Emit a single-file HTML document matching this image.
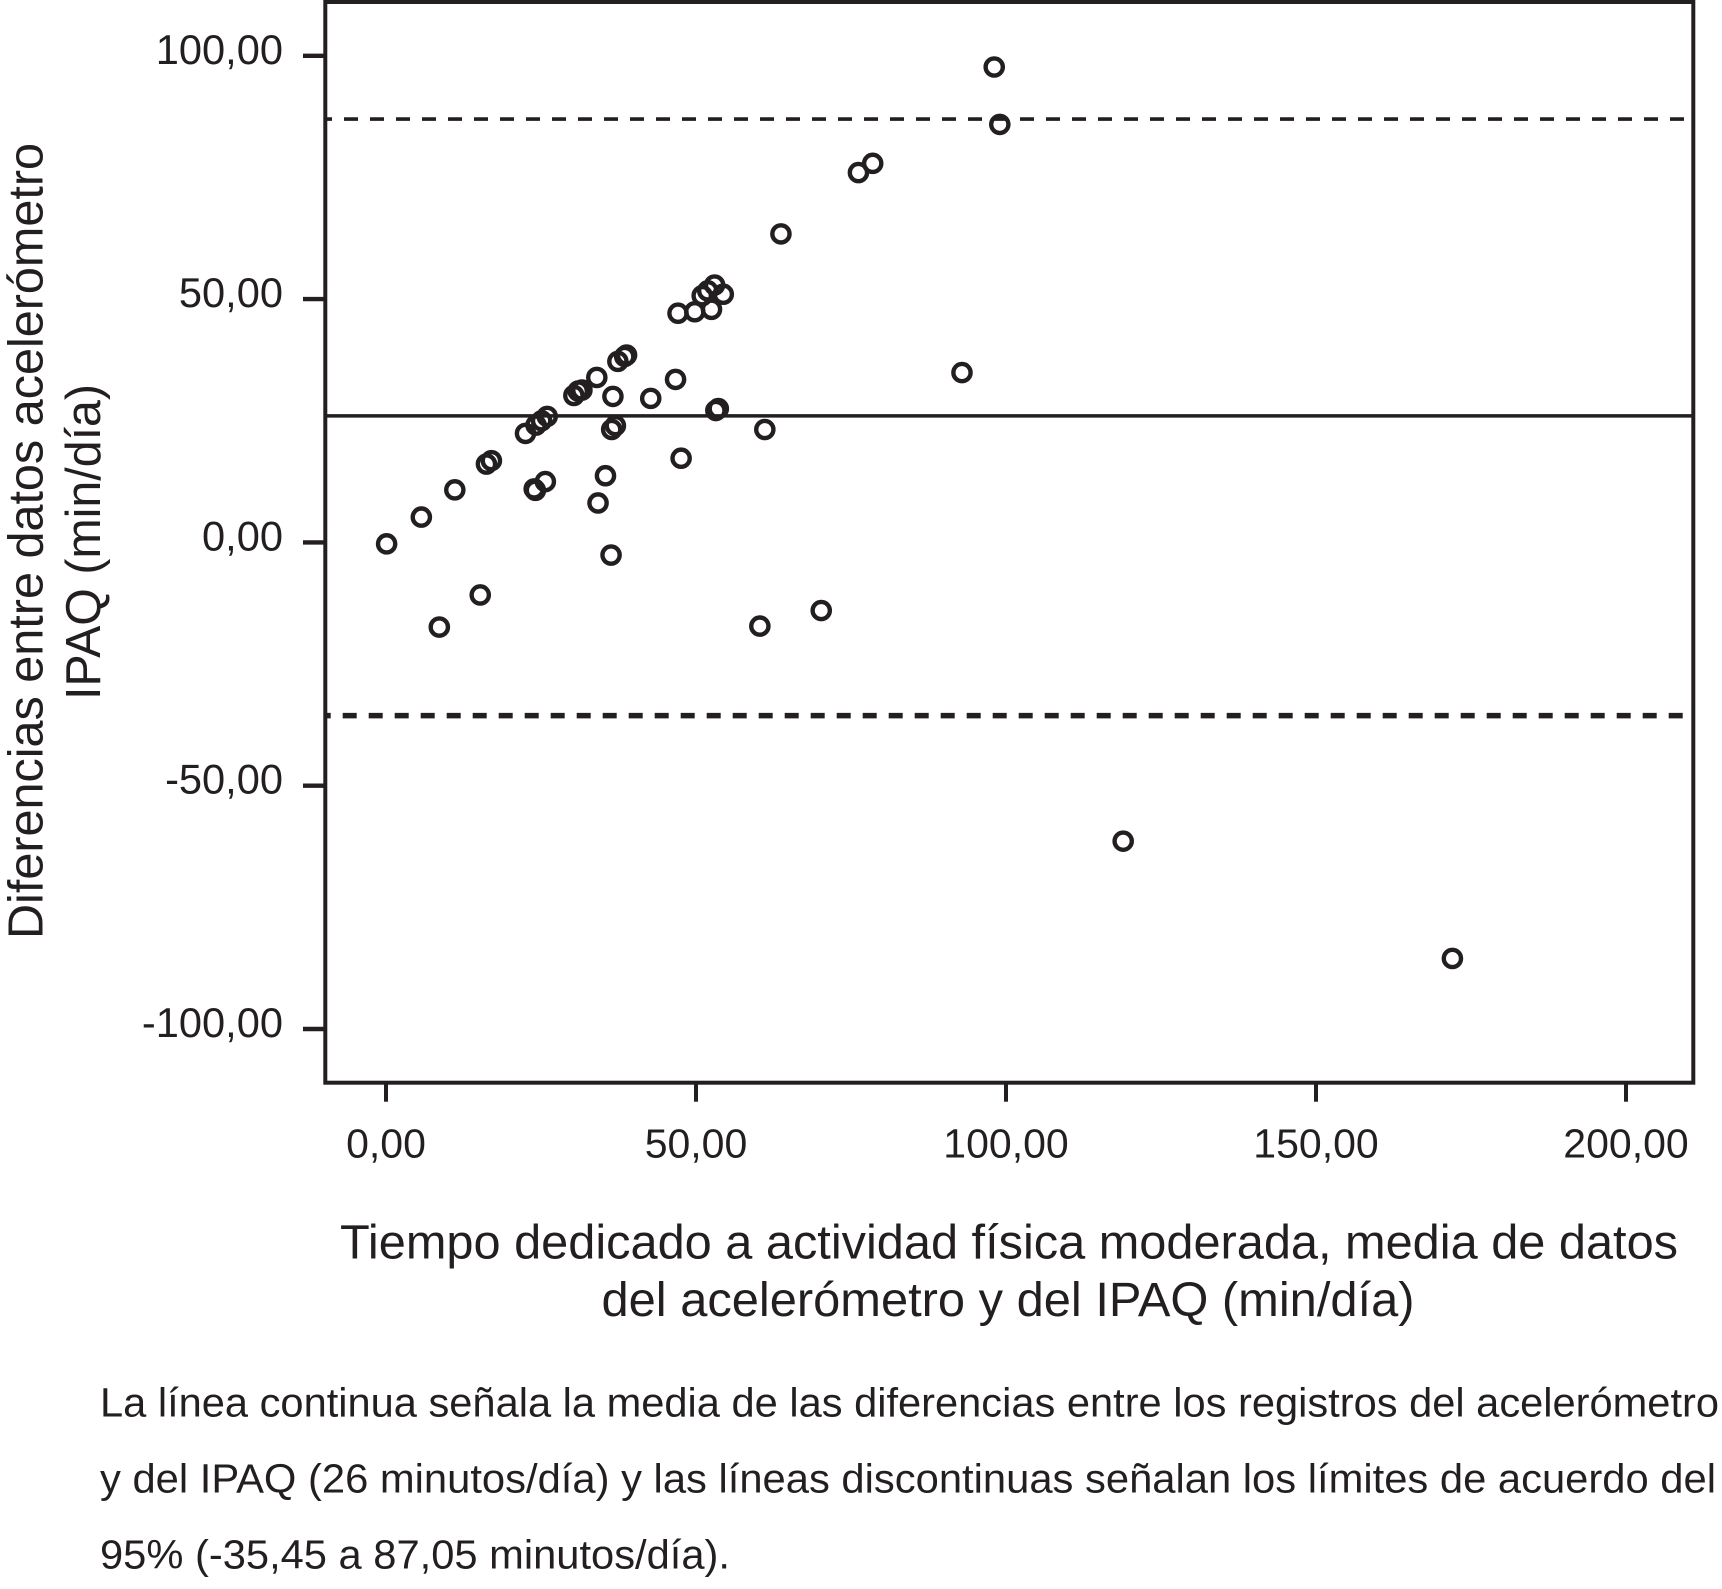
<!DOCTYPE html>
<html lang="es">
<head>
<meta charset="utf-8">
<title>Diferencias entre acelerómetro e IPAQ</title>
<style>
  html, body { margin: 0; padding: 0; background: #ffffff; }
  body { width: 1722px; height: 1589px; overflow: hidden; }
  svg { display: block; }
  text { font-family: "Liberation Sans", Arial, sans-serif; fill: #231f20; }
</style>
</head>
<body>
<svg id="chart" xmlns="http://www.w3.org/2000/svg" width="1722" height="1589" viewBox="0 0 1722 1589">
  <rect x="0" y="0" width="1722" height="1589" fill="#ffffff"/>
  <g id="reference-lines"></g>
  <g id="points"></g>
  <rect x="325.3" y="2" width="1368" height="1080.7" fill="none" stroke="#231f20" stroke-width="4"/>
  <g id="x-axis"></g>
  <g id="y-axis"></g>

  <g>
    <text transform="translate(42.5 939) rotate(-90)" font-size="49" textLength="796" lengthAdjust="spacingAndGlyphs">Diferencias entre datos acelerómetro</text>
    <text transform="translate(100 700) rotate(-90)" font-size="49" textLength="316" lengthAdjust="spacingAndGlyphs">IPAQ (min/día)</text>
  </g>

  <g>
    <text x="340" y="1258.3" font-size="48" textLength="1338" lengthAdjust="spacingAndGlyphs">Tiempo dedicado a actividad física moderada, media de datos</text>
    <text x="601.5" y="1316" font-size="48" textLength="813" lengthAdjust="spacingAndGlyphs">del acelerómetro y del IPAQ (min/día)</text>
  </g>

  <g>
    <text x="100" y="1416.7" font-size="41" textLength="1619" lengthAdjust="spacingAndGlyphs">La línea continua señala la media de las diferencias entre los registros del acelerómetro</text>
    <text x="100" y="1492.7" font-size="41" textLength="1616" lengthAdjust="spacingAndGlyphs">y del IPAQ (26 minutos/día) y las líneas discontinuas señalan los límites de acuerdo del</text>
    <text x="100" y="1568.7" font-size="41" textLength="630" lengthAdjust="spacingAndGlyphs">95% (-35,45 a 87,05 minutos/día).</text>
  </g>
</svg>

<script>
var xValues = [0.1, 5.7, 11.1, 16.2, 17, 22.5, 24.2, 25.1, 26, 24.1, 23.9, 25.7, 30.3, 31, 31.6, 34, 36.6, 35.4, 34.2, 36.3, 36.4, 37, 37.4, 38.5, 38.8, 42.7, 46.7, 47.1, 47.6, 49.8, 51, 51.9, 53, 54.4, 52.5, 53.2, 53.6, 61.1, 15.2, 8.6, 60.3, 63.7, 70.2, 76.2, 78.5, 92.9, 98.1, 99, 118.9, 172];
var yValues = [-0.3, 5.2, 10.8, 16.1, 16.8, 22.4, 24.1, 25, 25.9, 10.7, 11, 12.5, 30.2, 31.1, 31.3, 33.9, 30, 13.7, 8.1, -2.6, 23.2, 24, 37.2, 38.2, 38.5, 29.6, 33.5, 47.1, 17.3, 47.4, 50.7, 51.7, 52.9, 51, 47.9, 27.1, 27.5, 23.2, -10.8, -17.4, -17.2, 63.4, -14, 76, 77.9, 34.9, 97.7, 85.9, -61.4, -85.5];
var xTicks = [0, 50, 100, 150, 200];
var xTickLabels = ["0,00", "50,00", "100,00", "150,00", "200,00"];
var yTicks = [100, 50, 0, -50, -100];
var yTickLabels = ["100,00", "50,00", "0,00", "-50,00", "-100,00"];
var meanDifference = 26;
var upperLimit = 87;
var lowerLimit = -35.6;

var SVG_NS = "http://www.w3.org/2000/svg";
var INK = "#231f20";
var FRAME_LEFT = 327;
var FRAME_RIGHT = 1692;
var FRAME_BOTTOM = 1082.7;

function xScale(v) { return 386 + v * 6.2; }
function yScale(v) { return 542.4 - v * 4.866; }

function make(tag, parent) {
  var el = document.createElementNS(SVG_NS, tag);
  parent.appendChild(el);
  return el;
}

var lineGroup = document.getElementById("reference-lines");

var meanLine = make("line", lineGroup);


meanLine.setAttribute("x1", FRAME_LEFT);
meanLine.setAttribute("x2", FRAME_RIGHT);
meanLine.setAttribute("y1", yScale(meanDifference));
meanLine.setAttribute("y2", yScale(meanDifference));
meanLine.setAttribute("stroke", INK);
meanLine.setAttribute("stroke-width", "3.6");

var upperLine = make("line", lineGroup);


upperLine.setAttribute("x1", FRAME_LEFT);
upperLine.setAttribute("x2", FRAME_RIGHT);
upperLine.setAttribute("y1", yScale(upperLimit));
upperLine.setAttribute("y2", yScale(upperLimit));
upperLine.setAttribute("stroke", INK);
upperLine.setAttribute("stroke-width", "3.6");
upperLine.setAttribute("stroke-dasharray", "14 12");
upperLine.setAttribute("stroke-dashoffset", "9");

var lowerLine = make("line", lineGroup);


lowerLine.setAttribute("x1", FRAME_LEFT);
lowerLine.setAttribute("x2", FRAME_RIGHT);
lowerLine.setAttribute("y1", yScale(lowerLimit));
lowerLine.setAttribute("y2", yScale(lowerLimit));
lowerLine.setAttribute("stroke", INK);
lowerLine.setAttribute("stroke-width", "5.6");
lowerLine.setAttribute("stroke-dasharray", "14 12");
lowerLine.setAttribute("stroke-dashoffset", "10.3");

var pointGroup = document.getElementById("points");
xValues.forEach(function (xv, i) {
  var c = make("circle", pointGroup);
  
  
  c.setAttribute("cx", xScale(xv));
  c.setAttribute("cy", yScale(yValues[i]));
  c.setAttribute("r", "8.6");
  c.setAttribute("fill", "none");
  c.setAttribute("stroke", INK);
  c.setAttribute("stroke-width", "4.4");
});

var xAxis = document.getElementById("x-axis");
xTicks.forEach(function (v, i) {
  var t = make("line", xAxis);
  
  
  t.setAttribute("x1", xScale(v));
  t.setAttribute("x2", xScale(v));
  t.setAttribute("y1", FRAME_BOTTOM);
  t.setAttribute("y2", FRAME_BOTTOM + 19);
  t.setAttribute("stroke", INK);
  t.setAttribute("stroke-width", "4");
  var label = make("text", xAxis);
  
  
  label.setAttribute("x", xScale(v));
  label.setAttribute("y", "1157.3");
  label.setAttribute("font-size", "41");
  label.setAttribute("text-anchor", "middle");
  label.textContent = xTickLabels[i];
});

var yAxis = document.getElementById("y-axis");
yTicks.forEach(function (v, i) {
  var t = make("line", yAxis);
  
  
  t.setAttribute("x1", "303");
  t.setAttribute("x2", "325.3");
  t.setAttribute("y1", yScale(v));
  t.setAttribute("y2", yScale(v));
  t.setAttribute("stroke", INK);
  t.setAttribute("stroke-width", "4.4");
  var label = make("text", yAxis);
  
  
  label.setAttribute("x", "283");
  label.setAttribute("y", yScale(v) + 8);
  label.setAttribute("font-size", "41.6");
  label.setAttribute("text-anchor", "end");
  label.textContent = yTickLabels[i];
});
</script>
</body>
</html>
